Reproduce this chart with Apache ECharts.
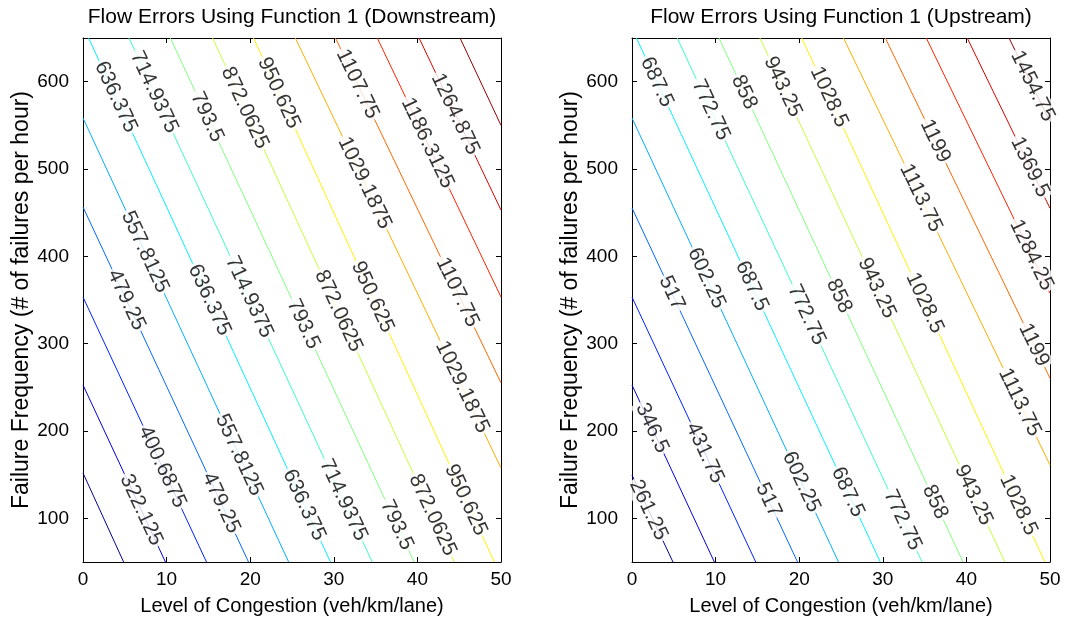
<!DOCTYPE html>
<html><head><meta charset="utf-8">
<script src="https://cdn.jsdelivr.net/npm/echarts@6/dist/echarts.min.js"></script>
<style>html,body{margin:0;padding:0;background:#fff}#c{width:1065px;height:623px}</style>
</head><body><div id="c"></div>
<script>
// ---------- text ----------
const titles = ['Flow Errors Using Function 1 (Downstream)', 'Flow Errors Using Function 1 (Upstream)'];
const xName = 'Level of Congestion (veh/km/lane)';
const yName = 'Failure Frequency (# of failures per hour)';
const xTicks = [0, 10, 20, 30, 40, 50];
const yTicks = [100, 200, 300, 400, 500, 600];

// ---------- Downstream (left) ----------
const downLevels = [243.5625, 322.125, 400.6875, 479.25, 557.8125, 636.375, 714.9375, 793.5,
  872.0625, 950.625, 1029.1875, 1107.75, 1186.3125, 1264.875, 1343.4375];
const downStart = [[0,151.9],[0,252.7],[0,353.4],[0,456.5],[0,558.4],[0.67,650],[5.5,650],[10.45,650],
  [15.5,650],[20.4,650],[25.4,650],[30.2,650],[35.2,650],[40.2,650],[45.1,650]];
const downEnd = [[4.86,50],[9.86,50],[14.77,50],[19.8,50],[24.6,50],[29.6,50],[34.6,50],[39.6,50],
  [44.4,50],[49.2,50],[50,157.6],[50,255],[50,353.4],[50,453],[50,550]];
const downLabelY = [[],[109.5],[158.8],[350,117.6],[405,172.5],[582.5,350,115.3],[588,353.4,121],
  [559.6,322.5,92.4],[570,337.4,103.8],[587,353.4,121],[484,250.4],[597.3,359],[529.8],[563],[]];

// ---------- Upstream (right) ----------
const upLevels = [261.25, 346.5, 431.75, 517, 602.25, 687.5, 772.75, 858, 943.25, 1028.5,
  1113.75, 1199, 1284.25, 1369.5, 1454.75];
const upStart = [[0,149.6],[0,252.7],[0,353.4],[0,455.4],[0,558.4],[0.53,650],[5.4,650],[10.4,650],
  [15.3,650],[20.3,650],[25.3,650],[30.3,650],[35.2,650],[40.1,650],[45.1,650]];
const upEnd = [[4.9,50],[9.85,50],[14.8,50],[19.8,50],[24.7,50],[29.7,50],[34.7,50],[39.6,50],
  [44.6,50],[49.4,50],[50,161],[50,260.4],[50,357.7],[50,455],[50,554.2]];
const upLabelY = [[109.5],[203.4],[174.8],[358,121],[375,141.6],[599.6,366,130],[567.6,333,98],
  [588,354.6,118.7],[594,363.7,126.7],[582.5,346.6,115.3],[466.8,233],[532,298.5],[401.5],[502.3],[595]];

// ---------- styling ----------
const FONT = "'Liberation Sans', Arial, sans-serif";
function jet(t) {
  const c = v => Math.round(255 * Math.max(0, Math.min(1, v)));
  return 'rgb(' + c(1.5 - Math.abs(4*t - 3)) + ',' + c(1.5 - Math.abs(4*t - 2)) + ',' + c(1.5 - Math.abs(4*t - 1)) + ')';
}
const lineColors = downLevels.map((_, i) => jet((i + 0.3) / 14.6));

const grids = [
  {left: 83, top: 38, width: 418, height: 524},
  {left: 632, top: 38, width: 418, height: 524}
];

const xAxes = [], yAxes = [];
[0, 1].forEach(g => {
  [['bottom', true], ['top', false]].forEach(([pos, lab]) => {
    xAxes.push({
      type: 'value', gridIndex: g, position: pos, min: 0, max: 50, interval: 10,
      name: lab ? xName : '', nameLocation: 'middle', nameGap: 34,
      nameTextStyle: {fontFamily: FONT, fontSize: 20, color: '#000'},
      axisLine: {show: true, onZero: false, lineStyle: {color: '#000', width: 1}},
      axisTick: {show: true, inside: true, length: 5, lineStyle: {color: '#000'}},
      axisLabel: {show: lab, fontFamily: FONT, fontSize: 19, color: '#000', margin: 8},
      splitLine: {show: false}
    });
  });
  [['left', true], ['right', false]].forEach(([pos, lab]) => {
    yAxes.push({
      type: 'value', gridIndex: g, position: pos, min: 50, max: 650,
      name: lab ? yName : '', nameLocation: 'middle', nameGap: 50, nameRotate: 90,
      nameTextStyle: {fontFamily: FONT, fontSize: 23, color: '#000'},
      axisLine: {show: true, onZero: false, lineStyle: {color: '#000', width: 1}},
      axisTick: {show: true, inside: true, length: 5, customValues: yTicks, lineStyle: {color: '#000'}},
      axisLabel: {show: lab, customValues: yTicks, fontFamily: FONT, fontSize: 19, color: '#000', margin: 14},
      splitLine: {show: false}
    });
  });
});

const chart = echarts.init(document.getElementById('c'));
chart.setOption({
  animation: false,
  backgroundColor: '#fff',
  grid: grids,
  xAxis: xAxes,
  yAxis: yAxes,
  graphic: titles.map((t, g) => ({
    type: 'text', x: grids[g].left + grids[g].width / 2, y: 17,
    style: {text: t, textAlign: 'center', textVerticalAlign: 'middle', font: '21px ' + FONT, fill: '#000'}
  }))
});

function xAtY(a, b, y) {
  const f = (y - a[1]) / (b[1] - a[1]);
  return a[0] + f * (b[0] - a[0]);
}

const series = [];
[[downLevels, downStart, downEnd, downLabelY], [upLevels, upStart, upEnd, upLabelY]].forEach(([lv, st, en, ly], g) => {
  const labelData = [];
  lv.forEach((level, i) => {
    series.push({
      type: 'line', xAxisIndex: 2*g, yAxisIndex: 2*g, symbol: 'none', silent: true,
      data: [st[i], en[i]], lineStyle: {color: lineColors[i], width: 1}, z: 2
    });
    const p1 = chart.convertToPixel({gridIndex: g}, st[i]);
    const p2 = chart.convertToPixel({gridIndex: g}, en[i]);
    const ang = Math.atan2(p2[1] - p1[1], p2[0] - p1[0]) * 180 / Math.PI;
    ly[i].forEach(y => {
      labelData.push({
        value: [xAtY(st[i], en[i], y), y],
        label: {formatter: String(level), rotate: -ang}
      });
    });
  });
  series.push({
    type: 'scatter', xAxisIndex: 2*g, yAxisIndex: 2*g, symbolSize: 0, silent: true, z: 5,
    data: labelData,
    label: {show: true, position: 'inside', fontFamily: FONT, fontSize: 21, color: '#000',
      textBorderWidth: 0, backgroundColor: '#fff', padding: [0, 2]}
  });
});
chart.setOption({series: series});
</script>
</body></html>
